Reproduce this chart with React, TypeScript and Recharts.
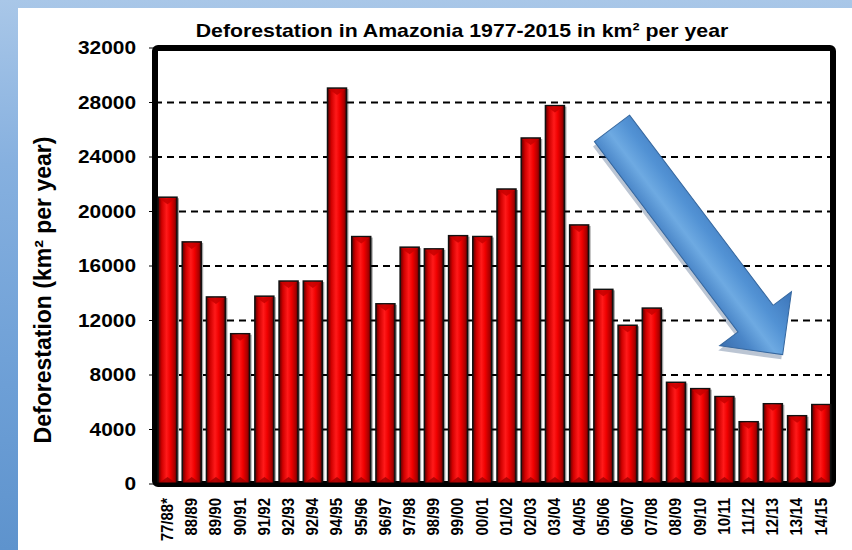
import { BarChart, Bar, XAxis, YAxis, CartesianGrid, ReferenceArea, ReferenceLine, Label } from 'recharts'

const years = [
  '77/88*', '88/89', '89/90', '90/91', '91/92', '92/93', '92/94', '94/95', '95/96', '96/97',
  '97/98', '98/99', '99/00', '00/01', '01/02', '02/03', '03/04', '04/05', '05/06', '06/07',
  '07/08', '08/09', '09/10', '10/11', '11/12', '12/13', '13/14', '14/15',
]
const deforestation = [
  21050, 17770, 13730, 11030, 13786, 14896, 14896, 29059, 18161, 13227,
  17383, 17259, 18226, 18165, 21651, 25396, 27772, 19014, 14286, 11651,
  12911, 7464, 7000, 6418, 4571, 5891, 5012, 5831,
]
const yTicks = [0, 4000, 8000, 12000, 16000, 20000, 24000, 28000, 32000]
// trend arrow, anchored in data space
const arrowFrom = { year: '05/06', value: 26100 }
const arrowTo = { year: '13/14', value: 9500 }

const data = years.map((year, i) => ({ year, value: deforestation[i] }))

const FONT = 'Arial, "Liberation Sans", sans-serif'

function BevelBar(props: any) {
  const { x, y, width, height } = props
  if (!height || height <= 0) return null
  const b = Math.min(7, width / 2.6)
  return (
    <g>
      <rect x={x + 2} y={y + 1} width={width} height={height} fill="#000" opacity={0.35} />
      <rect x={x} y={y} width={width} height={height} fill="url(#barGrad)" stroke="#111" strokeWidth={1.5} />
      <polygon
        points={`${x + 1},${y + 1} ${x + width - 1},${y + 1} ${x + width / 2},${y + b}`}
        fill="#c80000"
        opacity={0.85}
      />
      <polygon
        points={`${x + 1},${y + height - 1} ${x + width - 1},${y + height - 1} ${x + width / 2},${y + height - b}`}
        fill="#a00000"
        opacity={0.8}
      />
    </g>
  )
}

function YearTick(props: any) {
  const { x, y, payload } = props
  return (
    <text
      transform={`translate(${x} ${y + 3}) rotate(-90) scale(1 1.1)`}
      textAnchor="end"
      dominantBaseline="central"
      fill="#000"
      fontFamily={FONT}
      fontWeight="bold"
      fontSize={15}
    >
      {payload.value}
    </text>
  )
}

function ValueTick(props: any) {
  const { x, y, payload } = props
  return (
    <text
      transform={`translate(${x} ${y}) scale(1.16 1)`}
      textAnchor="end"
      dominantBaseline="central"
      fill="#000"
      fontFamily={FONT}
      fontWeight="bold"
      fontSize={18}
    >
      {payload.value}
    </text>
  )
}

function ArrowShape(props: any) {
  const { x1, y1, x2, y2 } = props
  if (x1 == null) return null
  const sx = x1 + 9
  const ex = x2 - 14
  const len = Math.hypot(ex - sx, y2 - y1)
  const ang = (Math.atan2(y2 - y1, ex - sx) * 180) / Math.PI
  const sw = 22
  const hw = 45
  const hl = 45
  const pts = [
    [0, -sw], [len - hl, -sw], [len - hl, -hw], [len, 0], [len - hl, hw], [len - hl, sw], [0, sw],
  ].map((p) => p.join(',')).join(' ')
  return (
    <g transform={`translate(${sx} ${y1}) rotate(${ang})`}>
      <polygon points={pts} fill="#1d3f6e" opacity={0.3} transform="translate(3 4)" />
      <polygon points={pts} fill="url(#arrowGrad)" stroke="#35679f" strokeWidth={1} />
    </g>
  )
}

export default function App() {
  return (
    <div
      style={{
        position: 'absolute',
        left: 0,
        top: 0,
        width: 852,
        height: 550,
        background: 'linear-gradient(180deg, #a9c7e8 0%, #86b0df 30%, #6d9fd6 70%, #5e93cd 100%)',
        overflow: 'hidden',
      }}
    >
      <div style={{ position: 'absolute', left: 18, top: 8, width: 834, height: 542, background: '#fff' }} />
      <div
        style={{
          position: 'absolute',
          left: 155,
          width: 614,
          top: 20,
          textAlign: 'center',
          fontFamily: FONT,
          fontWeight: 'bold',
          fontSize: 19,
          lineHeight: '22px',
          color: '#000',
          transform: 'scaleX(1.12)',
          whiteSpace: 'nowrap',
        }}
      >
        Deforestation in Amazonia 1977-2015 in km² per year
      </div>
      <div style={{ position: 'absolute', left: 0, top: 0 }}>
        <BarChart width={852} height={550} data={data} margin={{ top: 48, right: 19, bottom: 0, left: 0 }}>
          <defs>
            <linearGradient id="barGrad" x1="0" y1="0" x2="1" y2="0">
              <stop offset="0%" stopColor="#5a0000" />
              <stop offset="20%" stopColor="#d00000" />
              <stop offset="45%" stopColor="#ff1a1a" />
              <stop offset="65%" stopColor="#f00000" />
              <stop offset="88%" stopColor="#a80000" />
              <stop offset="100%" stopColor="#4a0000" />
            </linearGradient>
            <linearGradient id="arrowGrad" x1="0" y1="0" x2="0" y2="1">
              <stop offset="0%" stopColor="#3c74b8" />
              <stop offset="35%" stopColor="#5292d4" />
              <stop offset="55%" stopColor="#6eaae2" />
              <stop offset="75%" stopColor="#4a86c8" />
              <stop offset="100%" stopColor="#3a6eae" />
            </linearGradient>
          </defs>
          <CartesianGrid vertical={false} stroke="#000" strokeWidth={2} strokeDasharray="7 5" />
          <XAxis
            dataKey="year"
            interval={0}
            height={66}
            tickSize={6}
            tickMargin={5}
            tickLine={false}
            axisLine={{ stroke: '#000', strokeWidth: 3 }}
            tick={<YearTick />}
          />
          <YAxis
            width={155}
            domain={[0, 32000]}
            ticks={yTicks}
            interval={0}
            axisLine={false}
            tickLine={{ stroke: '#000' }}
            tickSize={6}
            tickMargin={13}
            tick={<ValueTick />}
          >
            <Label
              content={() => (
                <text
                  transform="translate(43 290) rotate(-90)"
                  textAnchor="middle"
                  dominantBaseline="central"
                  fill="#000"
                  fontFamily={FONT}
                  fontWeight="bold"
                  fontSize={23}
                >
                  Deforestation (km² per year)
                </text>
              )}
            />
          </YAxis>
          <Bar dataKey="value" barSize={19} shape={<BevelBar />} isAnimationActive={false} />
          <ReferenceArea
            y1={0}
            y2={32000}
            fill="none"
            stroke="#000"
            strokeWidth={6}
            radius={3}
            ifOverflow="visible"
          />
          <ReferenceLine
            segment={[
              { x: arrowFrom.year, y: arrowFrom.value },
              { x: arrowTo.year, y: arrowTo.value },
            ]}
            shape={ArrowShape}
            ifOverflow="visible"
          />
        </BarChart>
      </div>
    </div>
  )
}
